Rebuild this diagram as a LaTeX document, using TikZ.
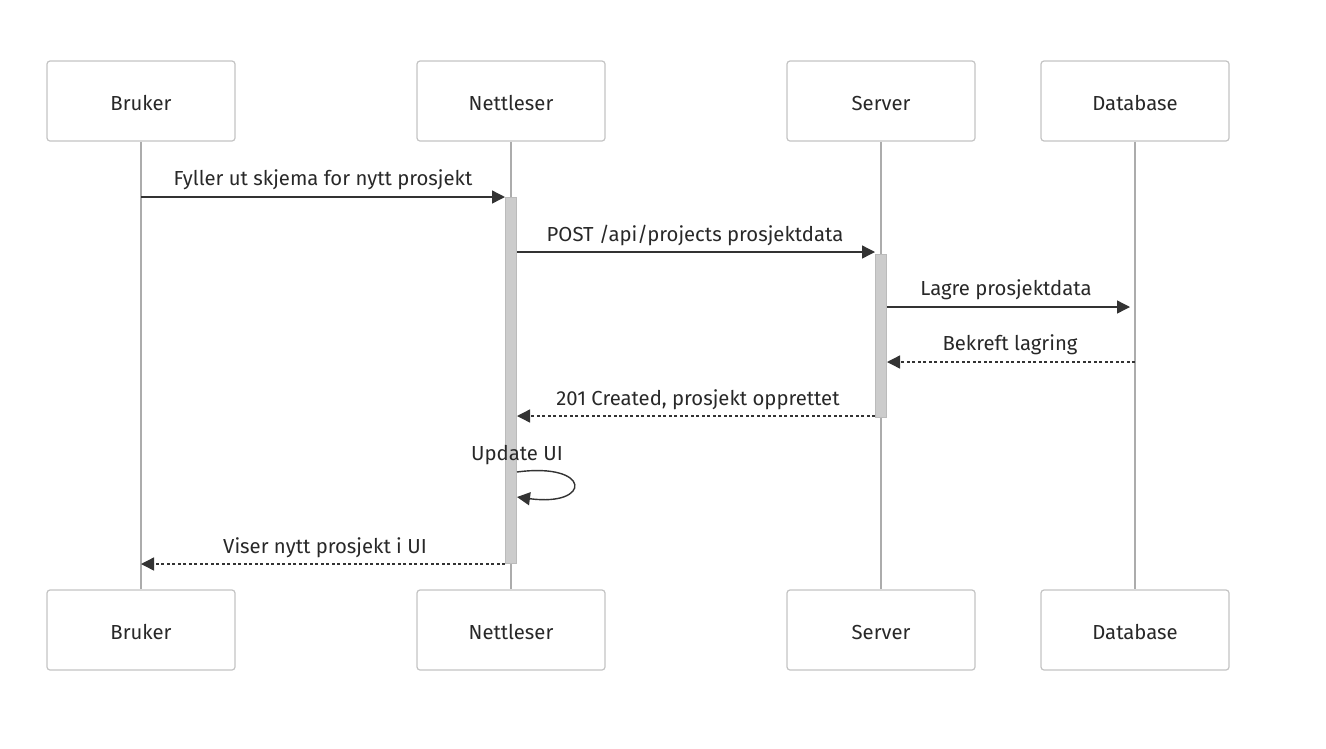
\documentclass[tikz,border=0pt]{standalone}
\usepackage{fontspec}
\setmainfont{Fira Sans}
\usetikzlibrary{arrows.meta}
\begin{document}
\begin{tikzpicture}[x=1pt,y=-1pt]
\newcommand{\boxtop}{101}
\newcommand{\boxbot}{630}
\tikzstyle{actor}=[draw=boxgray,line width=1.2pt,fill=white,rounded corners=3pt,minimum width=188pt,minimum height=80pt,inner sep=0pt,text=txtgray,text height=18pt,text depth=0pt,font=\fontsize{20.3}{24}\selectfont]
\tikzstyle{lifeline}=[draw=linegray,line width=1.6pt]
\tikzstyle{activation}=[draw=actborder,fill=actfill,minimum width=11pt,inner sep=0pt]
\tikzstyle{msg}=[draw=arrgray,line width=1.4pt,-{Triangle[length=13pt,width=13pt]},arrgray]
\tikzstyle{call}=[msg]
\tikzstyle{reply}=[msg,dash pattern=on 3pt off 2.5pt]
\tikzstyle{msglabel}=[text=txtgray,font=\fontsize{20.3}{24}\selectfont,inner sep=0pt]
\definecolor{boxgray}{RGB}{196,196,196}
\definecolor{linegray}{RGB}{172,172,172}
\definecolor{actfill}{RGB}{204,204,204}
\definecolor{actborder}{RGB}{187,187,187}
\definecolor{arrgray}{RGB}{51,51,51}
\definecolor{txtgray}{RGB}{40,40,40}
\useasboundingbox (0,0) rectangle (1326,748);
% participants
\node[actor] (bruker) at (141,\boxtop) {Bruker};
\node[actor] (nettleser) at (511,\boxtop) {Nettleser};
\node[actor] (server) at (881,\boxtop) {Server};
\node[actor] (database) at (1135,\boxtop) {Database};
\node[actor] (brukerb) at (141,\boxbot) {Bruker};
\node[actor] (nettleserb) at (511,\boxbot) {Nettleser};
\node[actor] (serverb) at (881,\boxbot) {Server};
\node[actor] (databaseb) at (1135,\boxbot) {Database};
% lifelines
\draw[lifeline] (bruker.south) -- (brukerb.north);
\draw[lifeline] (nettleser.south) -- (nettleserb.north);
\draw[lifeline] (server.south) -- (serverb.north);
\draw[lifeline] (database.south) -- (databaseb.north);
% activations
\node[activation,minimum height=366pt] (actn) at (511,380) {};
\node[activation,minimum height=163pt] (acts) at (881,335.5) {};
% end points
\coordinate (m1a) at (141,197);
\coordinate (m1b) at (505,197);
\coordinate (m2a) at (517,252);
\coordinate (m2b) at (875,252);
\coordinate (m3a) at (887,307);
\coordinate (m3b) at (1130,307);
\coordinate (m4a) at (1135,362);
\coordinate (m4b) at (887,362);
\coordinate (m5a) at (875,416);
\coordinate (m5b) at (517,416);
\coordinate (m6a) at (517,472);
\coordinate (m6b) at (517,497);
\coordinate (m7a) at (505,564);
\coordinate (m7b) at (141,564);
% messages
\draw[call] (m1a) -- (m1b);
\node[msglabel] (l1) at (323,180) {Fyller ut skjema for nytt prosjekt};
\draw[call] (m2a) -- (m2b);
\node[msglabel] (l2) at (695,235) {POST /api/projects prosjektdata};
\draw[call] (m3a) -- (m3b);
\node[msglabel] (l3) at (1006,290) {Lagre prosjektdata};
\draw[reply] (m4a) -- (m4b);
\node[msglabel] (l4) at (1010,345) {Bekreft lagring};
\draw[reply] (m5a) -- (m5b);
\node[msglabel] (l5) at (698,400) {201 Created, prosjekt opprettet};
\draw[call] (m6a) .. controls (592,462) and (592,507) .. (m6b);
\node[msglabel] (l6) at (517,455) {Update UI};
\draw[reply] (m7a) -- (m7b);
\node[msglabel] (l7) at (325,548) {Viser nytt prosjekt i UI};
\end{tikzpicture}
\end{document}
